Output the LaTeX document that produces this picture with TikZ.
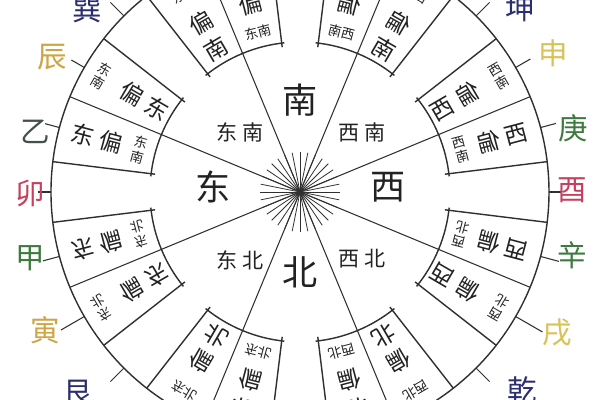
\documentclass[tikz,border=0pt]{standalone}
\usepackage{fontspec}
\setmainfont{Noto Sans CJK SC}
\usetikzlibrary{positioning}
\definecolor{ink}{HTML}{303030}
\definecolor{navy}{HTML}{2C2E6E}
\definecolor{gold}{HTML}{CFA444}
\definecolor{pale}{HTML}{D9C258}
\definecolor{moss}{HTML}{44504A}
\definecolor{leaf}{HTML}{3E7A40}
\definecolor{rose}{HTML}{C6405E}
\tikzset{
    frame/.style = {
        draw=ink,
        line width=1pt
    },
    spoke/.style = {
        draw=ink,
        line width=0.75pt
    },
    ray/.style = {
        draw=ink,
        line width=0.55pt
    },
    big/.style = {
        font=\fontsize{16.5}{16.5}\selectfont,
        inner sep=0pt,
        text=ink!70!black,
        transform shape
    },
    small/.style = {
        font=\fontsize{9.5}{10.5}\selectfont,
        inner sep=0pt,
        align=center,
        text=ink!70!black,
        transform shape
    },
    zone/.style = {
        font=\fontsize{15}{15}\selectfont,
        text=ink!70!black
    },
    cardinal/.style = {
        font=\fontsize{25}{25}\selectfont,
        text=ink!70!black
    },
    mountain/.style = {
        font=\fontsize{21}{21}\selectfont,
        inner sep=1pt
    },
}
% one quarter of the rim, drawn in the upper left frame
\newcommand\quarter[3]{%
    \draw[spoke] (0,0) -- (157.5:249) (0,0) -- (112.5:249);
    \draw[frame] (142:146) -- (142:249) (173:146) -- (173:249)
        (97:146) -- (97:249) (128:146) -- (128:249)
        (141:150) arc[start angle=141, end angle=174, radius=150]
        (96:150) arc[start angle=96, end angle=129, radius=150];
    \node[big, rotate=-14.75] (#3a1) at (165.25:224) {#1};
    \node[big, rotate=-14.75] (#3a2) at (165.25:195) {偏};
    \node[small, rotate=-14.75] (#3a3) at (165.25:166) {#1\\#2};
    \node[small, rotate=-30.25] (#3b1) at (149.75:230) {#1\\#2};
    \node[big, rotate=-30.25] (#3b2) at (149.75:195) {偏};
    \node[big, rotate=-30.25] (#3b3) at (149.75:165) {#1};
    \node[small, rotate=30.25] (#3c1) at (120.25:230) {#1#2};
    \node[big, rotate=30.25] (#3c2) at (120.25:196) {偏};
    \node[big, rotate=30.25] (#3c3) at (120.25:166) {#2};
    \node[big, rotate=14.75] (#3d1) at (104.75:224) {#2};
    \node[big, rotate=14.75] (#3d2) at (104.75:194) {偏};
    \node[small, rotate=14.75] (#3d3) at (104.75:165) {#1#2};
}

\begin{document}
\begin{tikzpicture}[x=0.25mm, y=0.25mm]
    \clip (-300,-208) rectangle (300,192);
    \fill[white] (-300,-208) rectangle (300,192);

    \draw[frame] (0,0) circle[radius=249];
    \foreach \a in {0,11.25,...,349} \draw[ray] (0,0) -- (\a:40);

    \begin{scope}\quarter{东}{南}{es}\end{scope}
    \begin{scope}[xscale=-1]\quarter{西}{南}{ws}\end{scope}
    \begin{scope}[yscale=-1]\quarter{东}{北}{en}\end{scope}
    \begin{scope}[scale=-1]\quarter{西}{北}{wn}\end{scope}

    \node[cardinal] (south) at (0,92) {南};
    \node[cardinal] (north) at (0,-80) {北};
    \node[cardinal] (east) at (-87,5) {东};
    \node[cardinal] (west) at (88,5) {西};
    \node[zone] (southeast) at (-60,60) {东\hspace{3pt}南};
    \node[zone] (southwest) at (62,60) {西\hspace{3pt}南};
    \node[zone] (northeast) at (-60,-68) {东\hspace{3pt}北};
    \node[zone] (northwest) at (62,-67) {西\hspace{3pt}北};

    % ticks on the rim
    \foreach \a/\r in {135/268,150/264,165/264,180/262,195/266,210/276,225/268,
                       45/268,30/266,15/265,0/262,345/268,330/280,315/268} {
        \coordinate (o\a) at (\a:249);
        \coordinate (t\a) at (\a:\r);
        \draw[spoke] (o\a) -- (t\a);
    }

    \node[mountain, text=navy] (xun) at (-213,182) {巽};
    \node[mountain, text=gold] (chen) at (-248,135) {辰};
    \node[mountain, text=moss] (yi) at (-265,60) {乙};
    \node[mountain, text=rose] (mao) at (-270,-1) {卯};
    \node[mountain, text=leaf] (jia) at (-270,-66) {甲};
    \node[mountain, text=gold] (yin) at (-255,-138) {寅};
    \node[mountain, text=navy] (gen) at (-222,-201) {艮};
    \node[mountain, text=navy] (kun) at (220,184) {坤};
    \node[mountain, text=pale] (shen) at (253,139) {申};
    \node[mountain, text=leaf] (geng) at (273,64) {庚};
    \node[mountain, text=rose] (you) at (272,2) {酉};
    \node[mountain, text=leaf] (xin) at (272,-63) {辛};
    \node[mountain, text=pale] (xu) at (257,-141) {戌};
    \node[mountain, text=navy] (qian) at (222,-198) {乾};
\end{tikzpicture}
\end{document}
